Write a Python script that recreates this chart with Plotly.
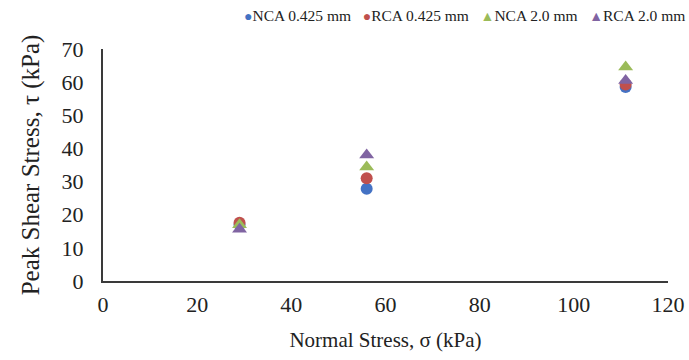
import plotly.graph_objects as go

normal_stress = [29, 56, 111]
series_names = ["NCA 0.425 mm", "RCA 0.425 mm", "NCA 2.0 mm", "RCA 2.0 mm"]
nca_0425 = [17.0, 27.8, 58.5]
rca_0425 = [17.6, 31.0, 59.3]
nca_20 = [17.0, 34.4, 64.6]
rca_20 = [15.6, 38.0, 60.5]
x_ticks = [0, 20, 40, 60, 80, 100, 120]
y_ticks = [0, 10, 20, 30, 40, 50, 60, 70]

colors = ["#4472C4", "#C0504D", "#9BBB59", "#8064A2"]
symbols = ["circle", "circle", "triangle-up", "triangle-up"]
legend_glyphs = ["●", "●", "▲", "▲"]
values = [nca_0425, rca_0425, nca_20, rca_20]

font_family = "Liberation Serif, Times New Roman, serif"
text_color = "#222222"

W, H = 689, 360
ML, MR, MT, MB = 103, 21, 49, 79
PW, PH = W - ML - MR, H - MT - MB

fig = go.Figure()
for name, vals, col, sym in zip(series_names, values, colors, symbols):
    fig.add_trace(go.Scatter(
        x=normal_stress, y=vals, mode="markers", name=name, showlegend=False,
        marker=dict(color=col, symbol=sym, size=12 if sym == "circle" else 13,
                    line=dict(width=0)),
    ))

# compact legend line: small symbol directly before each label, as in the reference
parts = [f"<span style='color:{c};font-size:14px'>{g}</span>{n}"
         for n, c, g in zip(series_names, colors, legend_glyphs)]
legend_text = "\u00a0\u00a0\u00a0".join(parts)
fig.add_annotation(
    xref="paper", yref="paper", x=(687 - ML) / PW, y=1 + (MT - 15) / PH,
    xanchor="right", yanchor="middle", showarrow=False, text=legend_text,
    font=dict(family=font_family, size=15.5, color=text_color),
)

fig.update_layout(
    width=W, height=H,
    margin=dict(l=ML, r=MR, t=MT, b=MB),
    paper_bgcolor="white", plot_bgcolor="white",
    font=dict(family=font_family, size=22, color=text_color),
    showlegend=False,
    xaxis=dict(range=[0, 120], tickvals=x_ticks, showgrid=False, zeroline=False,
               showline=True, linecolor="#3a3a3a", linewidth=2, automargin=False,
               ticks="", tickfont=dict(size=22), ticklabelstandoff=3,
               title=dict(text="Normal Stress, σ (kPa)", font=dict(size=21), standoff=16)),
    yaxis=dict(range=[0, 70], tickvals=y_ticks, showgrid=False, zeroline=False,
               showline=True, linecolor="#3a3a3a", linewidth=2, automargin=False,
               ticks="", tickfont=dict(size=22), ticklabelstandoff=13,
               title=dict(text="Peak Shear Stress, τ (kPa)", font=dict(size=25), standoff=15)),
)

fig.write_html("out.html", post_script="document.body.style.margin='0';",
               config={"displayModeBar": False})
